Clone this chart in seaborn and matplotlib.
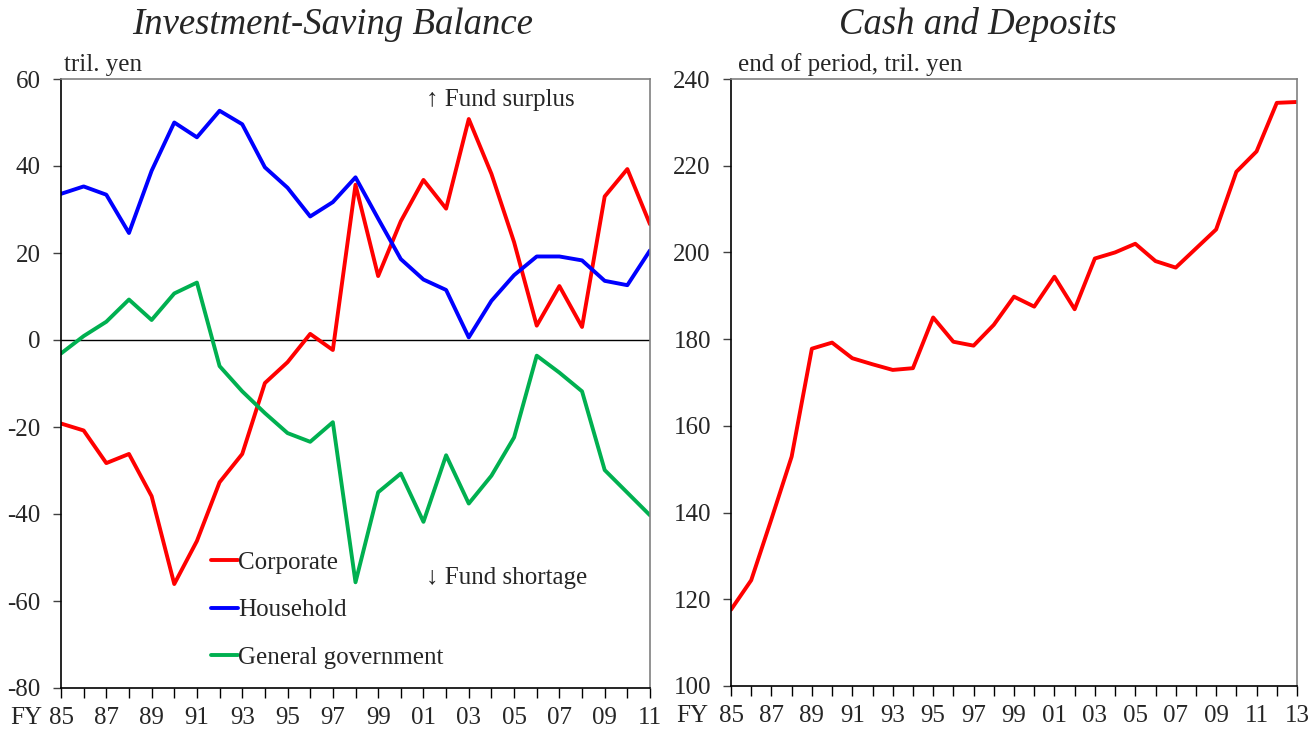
import numpy as np
import pandas as pd
import matplotlib
matplotlib.use('Agg')
import matplotlib.pyplot as plt
import seaborn as sns

# Investment-Saving balance, tril. yen (FY1985-2011)
years_is = list(range(1985, 2012))
corporate = [-19.2, -20.8, -28.3, -26.2, -35.9, -56.1, -46.2, -32.7, -26.2, -9.9,
             -5.1, 1.4, -2.3, 35.7, 14.7, 27.3, 36.8, 30.2, 50.8, 38.2,
             22.5, 3.3, 12.4, 3.0, 33.0, 39.3, 26.6]
household = [33.6, 35.3, 33.4, 24.6, 38.9, 50.0, 46.6, 52.7, 49.6, 39.7,
             35.0, 28.4, 31.7, 37.4, 27.9, 18.6, 13.9, 11.5, 0.6, 9.0,
             14.9, 19.2, 19.2, 18.3, 13.6, 12.6, 20.6]
government = [-3.1, 0.9, 4.2, 9.3, 4.6, 10.7, 13.2, -6.0, -11.8, -16.8,
              -21.4, -23.4, -18.9, -55.7, -35.0, -30.7, -41.8, -26.5, -37.6, -31.2,
              -22.4, -3.6, -7.5, -11.8, -29.9, -35.1, -40.3]
sectors = ['Corporate', 'Household', 'General government']
sector_colors = ['#FF0000', '#0000FF', '#00B050']

# Cash and deposits, end of period, tril. yen (FY1985-2013)
years_cd = list(range(1985, 2014))
cash_deposits = [117.6, 124.4, 138.5, 152.9, 177.8, 179.2, 175.6, 174.2, 172.9, 173.3,
                 185.0, 179.4, 178.5, 183.3, 189.8, 187.5, 194.4, 186.9, 198.6, 200.0,
                 202.0, 198.0, 196.5, 200.9, 205.3, 218.6, 223.3, 234.5, 234.7]

sns.set_style('white')
plt.rcParams['font.family'] = ['Liberation Serif', 'DejaVu Serif']
plt.rcParams['font.size'] = 18
plt.rcParams['axes.unicode_minus'] = False

fig = plt.figure(figsize=(13.09, 7.29), dpi=100)
ax1 = fig.add_axes([61 / 1309, 1 - 688 / 729, 589 / 1309, 609 / 729])
ax2 = fig.add_axes([731 / 1309, 1 - 686 / 729, 566 / 1309, 607 / 729])

# left panel
df_is = pd.DataFrame({'year': years_is * 3,
                      'value': corporate + household + government,
                      'sector': np.repeat(sectors, len(years_is))})
sns.lineplot(data=df_is, x='year', y='value', hue='sector', hue_order=sectors,
             palette=sector_colors, linewidth=2.8, ax=ax1)
ax1.axhline(0, color='black', linewidth=1, zorder=1)
ax1.set_xlim(1985, 2011)
ax1.set_ylim(-80, 60)
ax1.set_yticks(range(-80, 61, 20))
ax1.set_xticks(range(1985, 2012))
ax1.set_xticklabels([f'{y % 100:02d}' if (y - 1985) % 2 == 0 else '' for y in years_is])
ax1.legend(loc='upper left', bbox_to_anchor=(0.2544, 0.2243), frameon=False, fontsize=18,
           handlelength=1.1, handletextpad=0.0, labelspacing=1.0, borderpad=0,
           borderaxespad=0)
ax1.text(0.62, 0.965, '\u2191 Fund surplus', transform=ax1.transAxes, fontsize=18, va='center')
ax1.text(0.62, 0.18, '\u2193 Fund shortage', transform=ax1.transAxes, fontsize=18, va='center')
ax1.text(0.005, 1.005, 'tril. yen', transform=ax1.transAxes, fontsize=18, va='bottom')
ax1.text(-0.087, -0.05, 'FY', transform=ax1.transAxes, fontsize=18, va='center')

# right panel
df_cd = pd.DataFrame({'year': years_cd, 'value': cash_deposits})
sns.lineplot(data=df_cd, x='year', y='value', color='#FF0000', linewidth=2.8, ax=ax2)
ax2.set_xlim(1985, 2013)
ax2.set_ylim(100, 240)
ax2.set_yticks(range(100, 241, 20))
ax2.set_xticks(range(1985, 2014))
ax2.set_xticklabels([f'{y % 100:02d}' if (y - 1985) % 2 == 0 else '' for y in years_cd])
ax2.text(0.012, 1.005, 'end of period, tril. yen', transform=ax2.transAxes, fontsize=18, va='bottom')
ax2.text(-0.097, -0.05, 'FY', transform=ax2.transAxes, fontsize=18, va='center')

for ax in (ax1, ax2):
    ax.set_xlabel('')
    ax.set_ylabel('')
    ax.spines['left'].set_color('black')
    ax.spines['bottom'].set_color('black')
    ax.spines['top'].set_color('#808080')
    ax.spines['right'].set_color('#808080')
    for s in ax.spines.values():
        s.set_linewidth(1.2)
    ax.tick_params(axis='x', direction='out', length=7, width=1, color='black',
                   bottom=True, pad=6.5, labelsize=18)
    ax.tick_params(axis='y', direction='out', length=6, width=1, color='#404040',
                   left=True, pad=8.5, labelsize=18)

fig.text(333 / 1309, 1 - 25 / 729, 'Investment-Saving Balance', ha='center', va='center',
         fontsize=26.5, style='italic')
fig.text(978 / 1309, 1 - 25 / 729, 'Cash and Deposits', ha='center', va='center',
         fontsize=26.5, style='italic')

fig.savefig('out.png', dpi=100)
